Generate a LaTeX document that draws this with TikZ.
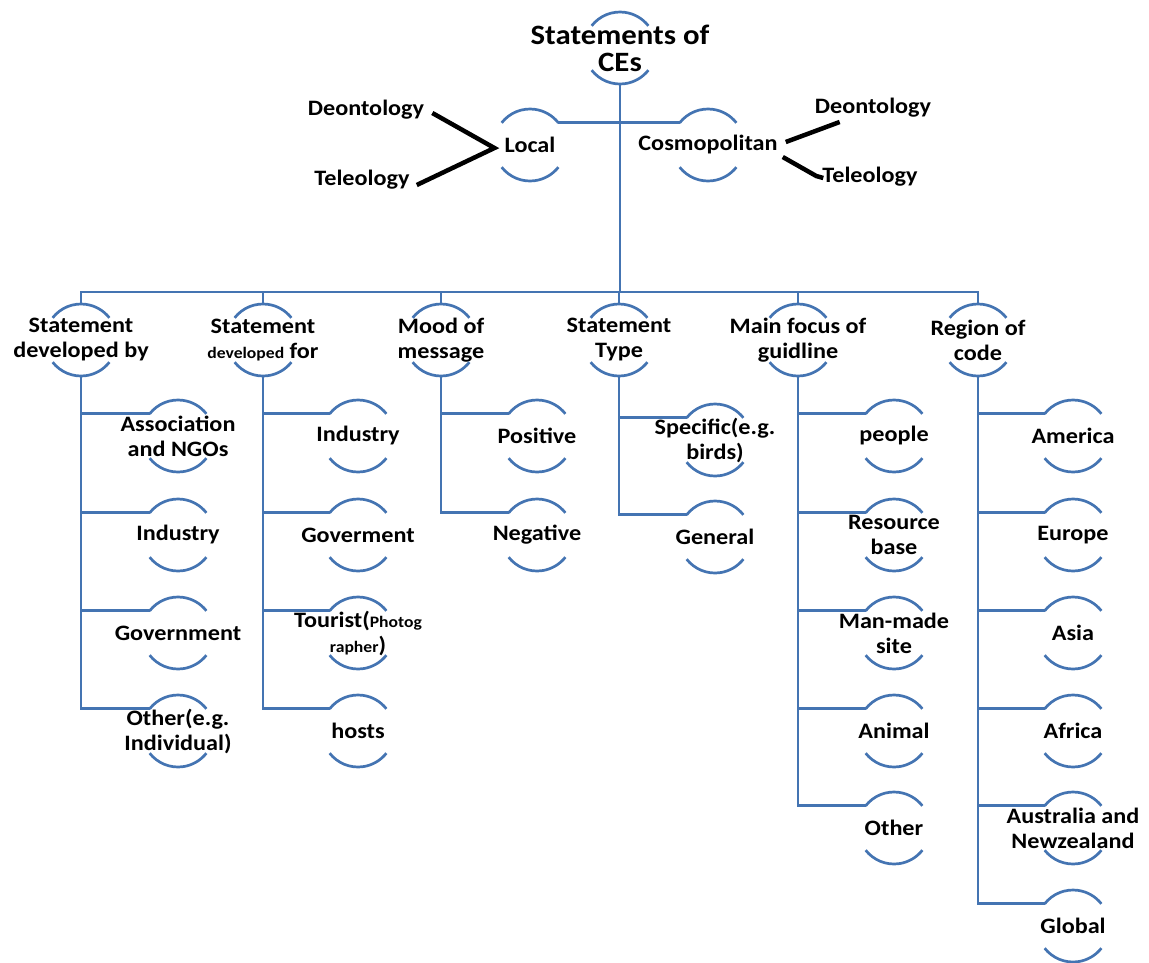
\documentclass[tikz,border=0pt]{standalone}
\usepackage{fontspec}
\setmainfont{Carlito}[FakeStretch=1.1]
\definecolor{lineblue}{RGB}{68,116,178}
\tikzset{
  lbl/.style={font=\bfseries\fontsize{22}{25}\selectfont, align=center, inner sep=0pt, text=black},
  rootlbl/.style={font=\bfseries\fontsize{28}{27}\selectfont},
  blu/.style={draw=lineblue, line width=2.7pt},
  blk/.style={draw=black, line width=4.5pt, line join=miter},
}
\newcommand\smtxt[1]{{\fontsize{16}{25}\selectfont #1}}
% y axis points down: angles 218..322 lie above the centre, 38..142 below it
\newcommand\bub[5][]{%
  \node[lbl,#1] (#2) at (#3,#4) {#5};
  \draw[blu] ([shift={(218:36)}]#2.center) arc[start angle=218,end angle=322,radius=36];
  \draw[blu] ([shift={(142:36)}]#2.center) arc[start angle=142,end angle=38,radius=36];
}
\begin{document}
\begin{tikzpicture}[x=1pt,y=-1pt]
\useasboundingbox (0,0) rectangle (1149,962);
% root and first level
\bub[rootlbl]{root}{620}{48}{Statements of\\CEs}
\bub{local}{530}{145}{Local}
\bub{cosmo}{708}{145}{Cosmopolitan}
\coordinate (bar) at (620,292);
\draw[blu] ([shift={(90:36)}]root.center) -- (bar);
\draw[blu] ([shift={(322:36)}]local.center) -- ([shift={(218:36)}]cosmo.center);
% deontology / teleology
\node[lbl] (dl) at (366,110) {Deontology};
\node[lbl] (tl) at (362,180) {Teleology};
\node[lbl] (dr) at (873,108) {Deontology};
\node[lbl] (tr) at (870,177) {Teleology};
\draw[blk] ([shift={(8,3)}]dl.east) -- ([shift={(-10,3)}]local.west) -- ([shift={(7,5)}]tl.east);
\draw[blk] ([shift={(8,-3)}]cosmo.east) -- ([shift={(25,14)}]dr.west);
\draw[blk] ([shift={(5,12)}]cosmo.east) -- ([shift={(-6,-1)}]tr.west) -- ([shift={(1,1)}]tr.west);
% categories
\bub{c1}{81}{340}{Statement\\developed by}
\bub{c2}{263}{340}{Statement\\\smtxt{developed} for}
\bub{c3}{441}{340}{Mood of\\message}
\bub{c4}{619}{340}{Statement\\Type}
\bub{c5}{798}{340}{Main focus of\\guidline}
\bub{c6}{978}{340}{Region of\\code}
\draw[blu] ([shift={(270:36)}]c1.center) -- (c1.center |- bar) -- (c6.center |- bar) -- ([shift={(270:36)}]c6.center);
\foreach \c in {c2,c3,c4,c5}{\draw[blu] ([shift={(270:36)}]\c.center) -- (\c.center |- bar);}
% column 1
\bub{a1}{178}{436}{Association\\and NGOs}
\bub{a2}{178}{535}{Industry}
\bub{a3}{178}{633}{Government}
\bub{a4}{178}{731}{Other(e.g.\\Individual)}
% column 2
\bub{b1}{358}{436}{Industry}
\bub{b2}{358}{535}{Goverment}
\bub{b3}{358}{633}{Tourist(\smtxt{Photog}\\\smtxt{rapher})}
\bub{b4}{358}{731}{hosts}
% column 3
\bub{d1}{537}{436}{Positive}
\bub{d2}{537}{535}{Negative}
% column 4
\bub{e1}{715}{440}{Specific(e.g.\\birds)}
\bub{e2}{715}{537}{General}
% column 5
\bub{f1}{894}{436}{people}
\bub{f2}{894}{535}{Resource\\base}
\bub{f3}{894}{633}{Man-made\\site}
\bub{f4}{894}{731}{Animal}
\bub{f5}{894}{828}{Other}
% column 6
\bub{g1}{1073}{436}{America}
\bub{g2}{1073}{535}{Europe}
\bub{g3}{1073}{633}{Asia}
\bub{g4}{1073}{731}{Africa}
\bub{g5}{1073}{828}{Australia and\\Newzealand}
\bub{g6}{1073}{926}{Global}
% connectors
\foreach \p/\k in {c1/a1,c1/a2,c1/a3,c1/a4,c2/b1,c2/b2,c2/b3,c2/b4,c3/d1,c3/d2,c4/e1,c4/e2,
  c5/f1,c5/f2,c5/f3,c5/f4,c5/f5,c6/g1,c6/g2,c6/g3,c6/g4,c6/g5,c6/g6}{
  \draw[blu] ([shift={(90:36)}]\p.center) |- ([shift={(218:36)}]\k.center);
}
\end{tikzpicture}
\end{document}
